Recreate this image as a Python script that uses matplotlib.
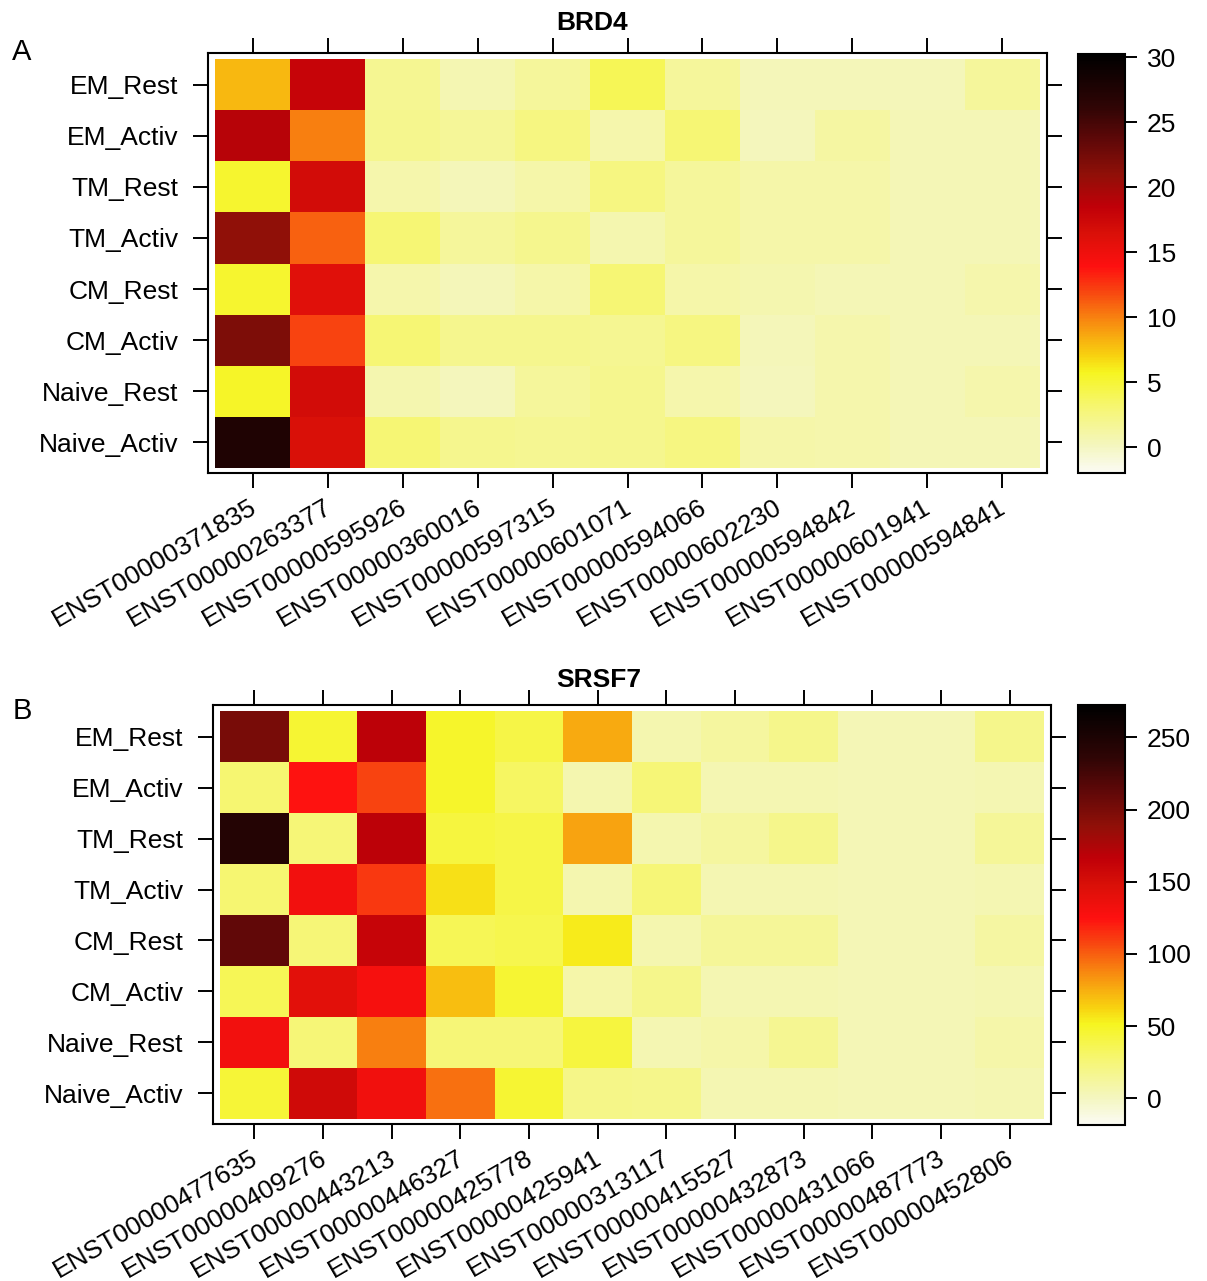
import matplotlib
matplotlib.use("Agg")
import matplotlib.pyplot as plt
import matplotlib.transforms as mtransforms
import numpy as np
from matplotlib.colors import LinearSegmentedColormap

plt.rcParams['font.family'] = ['Liberation Sans', 'DejaVu Sans']

rows = ['EM_Rest', 'EM_Activ', 'TM_Rest', 'TM_Activ',
        'CM_Rest', 'CM_Activ', 'Naive_Rest', 'Naive_Activ']

# panel A : BRD4
brd4_cols = ['ENST00000371835', 'ENST00000263377', 'ENST00000595926',
             'ENST00000360016', 'ENST00000597315', 'ENST00000601071',
             'ENST00000594066', 'ENST00000602230', 'ENST00000594842',
             'ENST00000601941', 'ENST00000594841']
# one list per row (EM_Rest first), one value per transcript
brd4_vals = [
    [8.0, 18.0, 1.8, 0.6, 1.5, 4.0, 1.5, 0.3, 0.3, 0.3, 1.5],
    [19.0, 10.0, 2.0, 1.6, 2.5, 0.8, 3.0, 0.2, 1.2, 0.4, 0.4],
    [5.2, 17.0, 0.8, 0.3, 1.0, 2.5, 1.5, 1.0, 1.0, 0.4, 0.4],
    [21.0, 11.0, 3.0, 1.5, 2.0, 0.7, 1.5, 1.0, 1.0, 0.4, 0.4],
    [5.2, 16.0, 0.8, 0.3, 1.0, 3.0, 1.0, 0.7, 0.5, 0.4, 0.8],
    [22.0, 12.0, 3.0, 2.0, 2.0, 1.8, 2.5, 0.3, 0.8, 0.4, 0.4],
    [5.5, 17.0, 0.7, 0.2, 1.5, 2.0, 0.8, 0.2, 0.8, 0.4, 0.8],
    [27.5, 16.5, 3.0, 2.0, 1.8, 2.0, 2.5, 1.0, 0.8, 0.4, 0.5],
]

# panel B : SRSF7
srsf7_cols = ['ENST00000477635', 'ENST00000409276', 'ENST00000443213',
              'ENST00000446327', 'ENST00000425778', 'ENST00000425941',
              'ENST00000313117', 'ENST00000415527', 'ENST00000432873',
              'ENST00000431066', 'ENST00000487773', 'ENST00000452806']
srsf7_vals = [
    [200, 46, 168, 48, 40, 76, 6, 12, 18, 4, 4, 18],
    [27, 124, 108, 48, 32, 6, 25, 5, 5, 4, 4, 5],
    [245, 25, 168, 42, 40, 79, 6, 12, 18, 4, 4, 14],
    [27, 132, 112, 58, 40, 6, 25, 5, 5, 4, 4, 5],
    [212, 25, 162, 36, 38, 55, 6, 14, 14, 4, 4, 10],
    [36, 142, 130, 70, 46, 8, 18, 5, 5, 4, 4, 5],
    [132, 25, 90, 25, 25, 42, 5, 8, 16, 4, 4, 8],
    [45, 155, 133, 95, 46, 20, 18, 5, 5, 4, 4, 5],
]

cmap = LinearSegmentedColormap.from_list('heat', [
    (0.00, '#fbfbf4'), (0.062, '#f4f6c0'), (0.158, '#f6f670'),
    (0.239, '#f6f520'), (0.279, '#f8d210'), (0.319, '#f8b010'),
    (0.372, '#f88010'), (0.434, '#f84410'), (0.493, '#fe1010'),
    (0.574, '#d81008'), (0.636, '#c00008'), (0.713, '#901008'),
    (0.794, '#600808'), (0.874, '#300505'), (1.00, '#000000')])

title_y = {'BRD4': 23, 'SRSF7': 680}


def panel(ax_pos, cb_pos, cols, vals, vmin, vmax, cticks, title, tx, letter, ly):
    z = np.array(vals, dtype=float)
    ax = fig.add_axes(ax_pos)
    mesh = ax.pcolormesh(np.arange(len(cols) + 1) - 0.5, np.arange(len(rows) + 1) - 0.5,
                         z, cmap=cmap, vmin=vmin, vmax=vmax)
    ax.set_xlim(-0.6, len(cols) - 0.4)
    ax.set_ylim(len(rows) - 0.4, -0.62)
    ax.set_xticks(range(len(cols)))
    ax.set_xticklabels(cols, rotation=30, ha='right', va='center', rotation_mode='anchor')
    ax.set_yticks(range(len(rows)))
    ax.set_yticklabels(rows)
    ax.tick_params(direction='out', length=11, width=1.4, labelsize=19,
                   top=True, right=True, pad=10)
    ax.tick_params(axis='x', pad=12)
    shift = mtransforms.ScaledTranslation(2 / 100, 0, fig.dpi_scale_trans)
    for lab in ax.get_xticklabels():
        lab.set_transform(lab.get_transform() + shift)
    for s in ax.spines.values():
        s.set_linewidth(1.5)

    cax = fig.add_axes(cb_pos)
    cb = fig.colorbar(mesh, cax=cax, ticks=cticks)
    cb.outline.set_linewidth(1.5)
    cax.tick_params(direction='out', length=8.5, width=1.4, labelsize=19, pad=7)

    fig.text(tx / 1207, 1 - title_y[title] / 1281, title, fontsize=19,
             fontweight='bold', ha='center', va='center')
    fig.text(22 / 1207, 1 - ly / 1281, letter, fontsize=21, ha='center', va='center')


fig = plt.figure(figsize=(12.07, 12.81), dpi=100)
panel([208 / 1207, 1 - 473 / 1281, 839 / 1207, 420 / 1281],
      [1078 / 1207, 1 - 473 / 1281, 47 / 1207, 419 / 1281],
      brd4_cols, brd4_vals, -2.0, 30.25, [0, 5, 10, 15, 20, 25, 30],
      'BRD4', 592, 'A', 52)
panel([213 / 1207, 1 - 1124 / 1281, 838 / 1207, 419 / 1281],
      [1078 / 1207, 1 - 1125 / 1281, 47 / 1207, 420 / 1281],
      srsf7_cols, srsf7_vals, -18.5, 272.4, [0, 50, 100, 150, 200, 250],
      'SRSF7', 599, 'B', 711)

fig.savefig('out.png', dpi=100)
